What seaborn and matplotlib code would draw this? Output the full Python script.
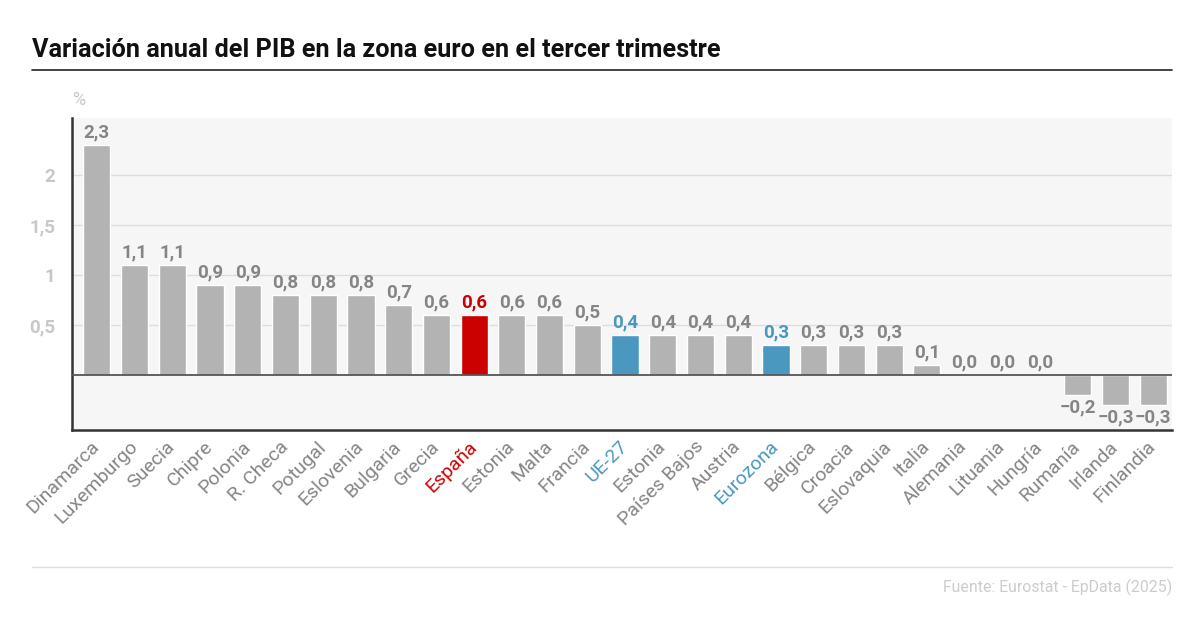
import pandas as pd
import matplotlib
matplotlib.use('Agg')
import matplotlib.pyplot as plt
import seaborn as sns

# Datos: variación anual del PIB (%), tercer trimestre
countries = ['Dinamarca', 'Luxemburgo', 'Suecia', 'Chipre', 'Polonia', 'R. Checa', 'Potugal',
             'Eslovenia', 'Bulgaria', 'Grecia', 'España', 'Estonia', 'Malta', 'Francia', 'UE-27',
             'Estonia', 'Países Bajos', 'Austria', 'Eurozona', 'Bélgica', 'Croacia', 'Eslovaquia',
             'Italia', 'Alemania', 'Lituania', 'Hungría', 'Rumanía', 'Irlanda', 'Finlandia']
values = [2.3, 1.1, 1.1, 0.9, 0.9, 0.8, 0.8, 0.8, 0.7, 0.6, 0.6, 0.6, 0.6, 0.5, 0.4,
          0.4, 0.4, 0.4, 0.3, 0.3, 0.3, 0.3, 0.1, 0.0, 0.0, 0.0, -0.2, -0.3, -0.3]
yticks = [0.5, 1, 1.5, 2]
ytick_labels = ['0,5', '1', '1,5', '2']

GREY = '#b3b3b3'
RED = '#cc0000'
BLUE = '#4a98c0'
highlight = {'España': RED, 'UE-27': BLUE, 'Eurozona': BLUE}

df = pd.DataFrame({'pos': range(len(countries)), 'country': countries, 'value': values})
bar_colors = [highlight.get(c, GREY) for c in countries]
label_colors = [highlight.get(c, '#858585') for c in countries]

sns.set_style('white')
plt.rcParams['font.family'] = ['Roboto', 'DejaVu Sans']

fig = plt.figure(figsize=(12, 6.36), dpi=100)
ax = fig.add_axes([0.06, 0.3239, 0.9167, 0.4906])
ax.set_facecolor('#f6f6f6')

sns.barplot(x='pos', y='value', hue='pos', data=df, palette=bar_colors, legend=False,
            width=0.72, saturation=1, ax=ax, zorder=3)

ax.set_xlim(-0.66, len(countries) - 0.5)
ax.set_ylim(-0.55, 2.57)
ax.set_yticks(yticks)
ax.set_yticklabels(ytick_labels)
ax.grid(axis='y', color='#dddddd', linewidth=1, zorder=0)
ax.set_axisbelow(True)
ax.axhline(0, color='#555555', linewidth=1.3, zorder=4)

for s in ['top', 'right']:
    ax.spines[s].set_visible(False)
for s in ['left', 'bottom']:
    ax.spines[s].set_color('#333333')
    ax.spines[s].set_linewidth(1.8)

ax.tick_params(axis='y', length=0, pad=12, labelsize=13.5, labelcolor='#c8c8c8')
for t in ax.get_yticklabels():
    t.set_fontweight('bold')
ax.tick_params(axis='x', length=0, pad=10)
ax.set_xticks(range(len(countries)))
ax.set_xticklabels(countries, rotation=45, ha='right', va='center', rotation_mode='anchor', fontsize=14)
for t, c in zip(ax.get_xticklabels(), label_colors):
    t.set_color(c)
ax.set_xlabel('')
ax.set_ylabel('')

# etiquetas de valor
for i, (v, c) in enumerate(zip(values, label_colors)):
    txt = f'{v:.1f}'.replace('.', ',').replace('-', '\u2212')
    if v < 0:
        ax.text(i, v - 0.03, txt, ha='center', va='top', fontsize=13.5, fontweight='bold', color=c)
    else:
        ax.text(i, v + 0.04, txt, ha='center', va='bottom', fontsize=13.5, fontweight='bold', color=c)

ax.text(0.0, 1.04, '%', transform=ax.transAxes, fontsize=13, color='#c8c8c8')

# título y líneas
fig.text(32 / 1200, 1 - 50 / 636, 'Variación anual del PIB en la zona euro en el tercer trimestre',
         fontsize=18.2, fontweight='bold', color='#111111', va='center')
fig.add_artist(plt.Line2D([32 / 1200, 1172 / 1200], [1 - 70 / 636] * 2, color='#222222', linewidth=1.2))
fig.add_artist(plt.Line2D([32 / 1200, 1172 / 1200], [1 - 567 / 636] * 2, color='#dddddd', linewidth=1))
fig.text(1172 / 1200, 1 - 587 / 636, 'Fuente: Eurostat - EpData (2025)', fontsize=11.4,
         color='#cccccc', ha='right', va='center')

fig.savefig('out.png', dpi=100)
